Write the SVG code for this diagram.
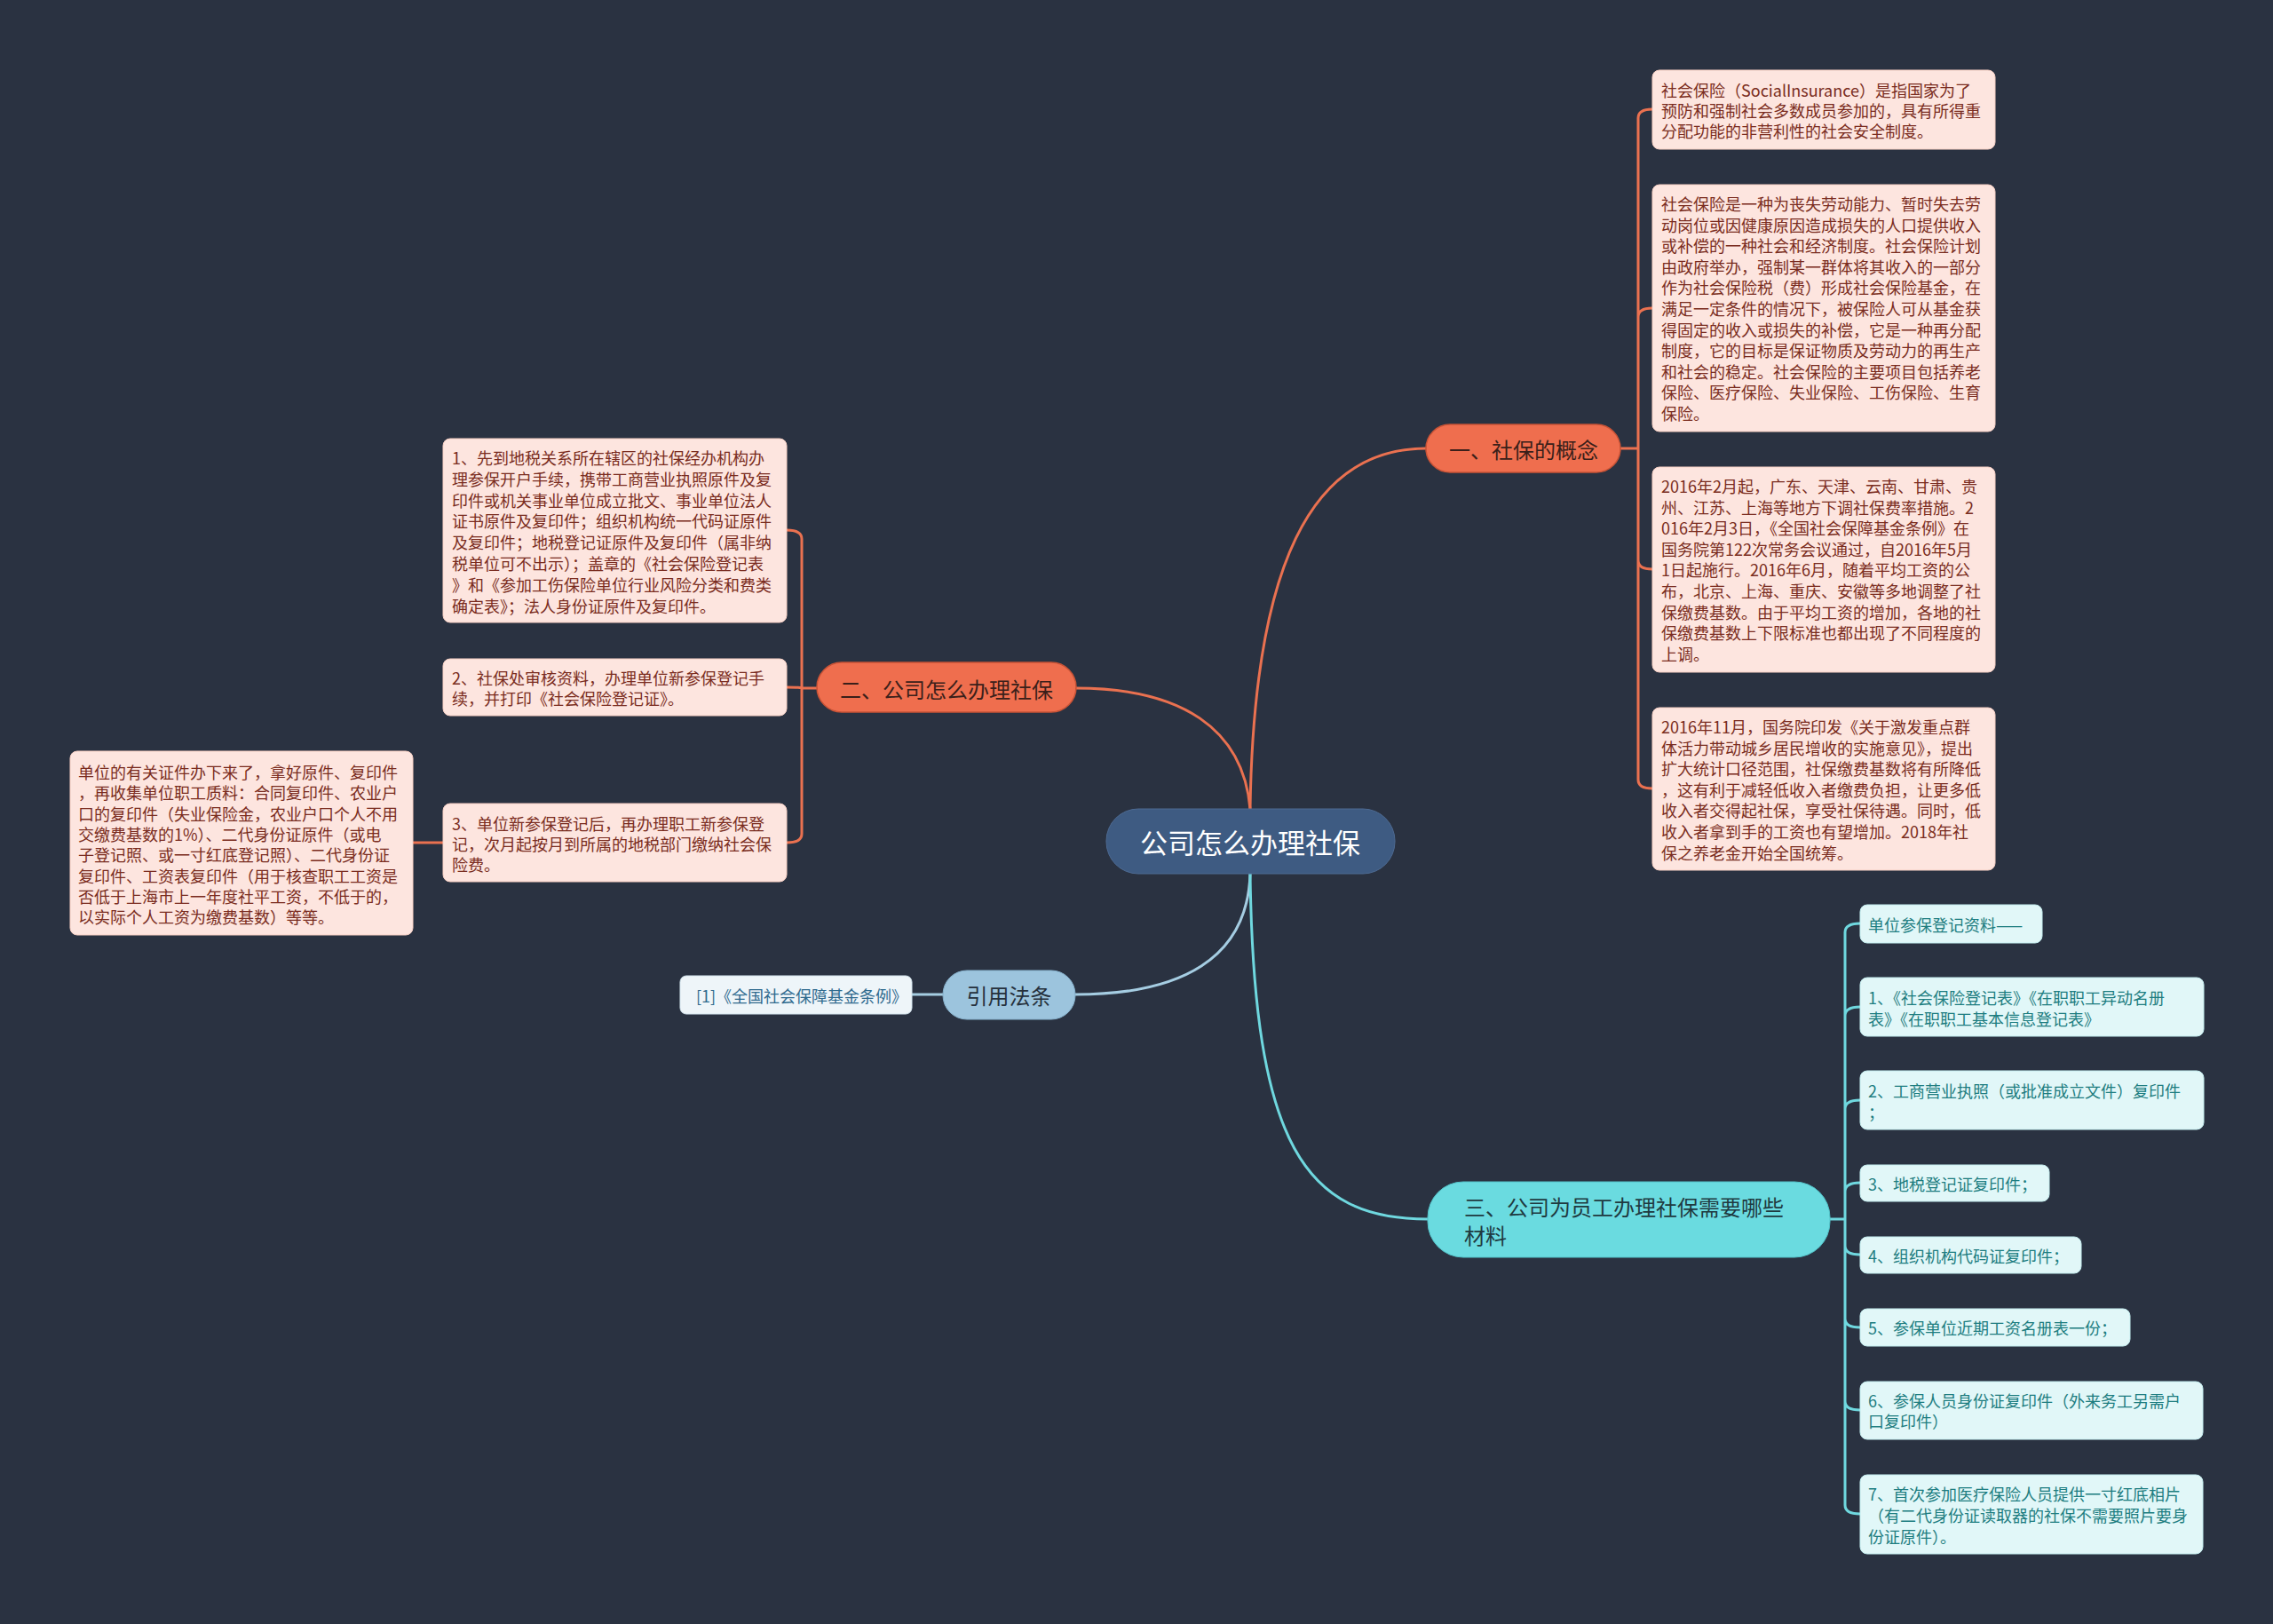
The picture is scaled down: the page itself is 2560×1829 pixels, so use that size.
<svg xmlns="http://www.w3.org/2000/svg" width="2560" height="1829" viewBox="0 0 2560 1829">
<style>
text{font-family:"Noto Sans CJK SC","Noto Sans",sans-serif;dominant-baseline:central}
.pk rect{fill:#fde5df;stroke:#f6cfc4;stroke-width:1}
.pk text{font-size:18px;fill:#7a2c20}
.cy rect{fill:#e1f7f8;stroke:#c4eef0;stroke-width:1}
.cy text{font-size:18px;fill:#1d7d80}
.or rect{fill:#ef6e4e;stroke:#c95336;stroke-width:1.5}
.or text{font-size:24px;fill:#3a1f1a}
.lo{fill:none;stroke:#ea7150;stroke-width:3}
.lc{fill:none;stroke:#6fd8df;stroke-width:3}
.lb{fill:none;stroke:#a5cde2;stroke-width:3}
</style>
<rect width="2560" height="1829" fill="#2a3241"/>
<g id="connectors">
<path class="lo" d="M1408 911 C1412 640 1475 505 1606 505"/>
<path class="lo" d="M1408 911 C1400 820 1330 775 1212 775"/>
<path class="lb" d="M1408 984 C1405 1080 1330 1120 1211 1120"/>
<path class="lc" d="M1408 984 C1412 1290 1470 1373 1608 1373"/>
<path class="lo" d="M1825 505 H1845 M1845 505 V133 Q1845 123 1861 123 M1845 505 V357 Q1845 347 1861 347 M1845 505 V631 Q1845 641 1861 641 M1845 505 V878 Q1845 888 1861 888"/>
<path class="lo" d="M920 775 H903 M903 775 V607 Q903 597 886 597 M903 775 Q903 774 886 774 M903 775 V939 Q903 949 886 949"/>
<path class="lo" d="M499 949 H465"/>
<path class="lb" d="M1062 1120 H1027"/>
<path class="lc" d="M2061 1373 H2078 M2078 1373 V1050 Q2078 1040 2095 1040 M2078 1373 V1144 Q2078 1134 2095 1134 M2078 1373 V1249 Q2078 1239 2095 1239 M2078 1373 V1342 Q2078 1332 2095 1332 M2078 1373 V1403 Q2078 1413 2095 1413 M2078 1373 V1485 Q2078 1495 2095 1495 M2078 1373 V1578 Q2078 1588 2095 1588 M2078 1373 V1695 Q2078 1705 2095 1705"/>
</g>
<g id="root">
<rect x="1246" y="911" width="325" height="73" rx="36" fill="#3e5b82" stroke="#4d6a92" stroke-width="1"/>
<text x="1408" y="947" font-size="31" fill="#ffffff" text-anchor="middle">公司怎么办理社保</text>
</g>
<g id="n1" class="or">
<rect x="1606" y="478" width="219" height="54" rx="27"/>
<text x="1716" y="505" text-anchor="middle">一、社保的概念</text>
</g>
<g id="n1a" class="pk">
<rect x="1861" y="79" width="386" height="89" rx="8"/>
<text x="1871" y="101">社会保险（SocialInsurance）是指国家为了</text>
<text x="1871" y="124">预防和强制社会多数成员参加的，具有所得重</text>
<text x="1871" y="147">分配功能的非营利性的社会安全制度。</text>
</g>
<g id="n1b" class="pk">
<rect x="1861" y="208" width="386" height="278" rx="8"/>
<text x="1871" y="229">社会保险是一种为丧失劳动能力、暂时失去劳</text>
<text x="1871" y="252.6">动岗位或因健康原因造成损失的人口提供收入</text>
<text x="1871" y="276.2">或补偿的一种社会和经济制度。社会保险计划</text>
<text x="1871" y="299.8">由政府举办，强制某一群体将其收入的一部分</text>
<text x="1871" y="323.4">作为社会保险税（费）形成社会保险基金，在</text>
<text x="1871" y="347">满足一定条件的情况下，被保险人可从基金获</text>
<text x="1871" y="370.6">得固定的收入或损失的补偿，它是一种再分配</text>
<text x="1871" y="394.2">制度，它的目标是保证物质及劳动力的再生产</text>
<text x="1871" y="417.8">和社会的稳定。社会保险的主要项目包括养老</text>
<text x="1871" y="441.4">保险、医疗保险、失业保险、工伤保险、生育</text>
<text x="1871" y="465">保险。</text>
</g>
<g id="n1c" class="pk">
<rect x="1861" y="526" width="386" height="231" rx="8"/>
<text x="1871" y="547">2016年2月起，广东、天津、云南、甘肃、贵</text>
<text x="1871" y="570.6">州、江苏、上海等地方下调社保费率措施。2</text>
<text x="1871" y="594.2">016年2月3日，《全国社会保障基金条例》在</text>
<text x="1871" y="617.8">国务院第122次常务会议通过，自2016年5月</text>
<text x="1871" y="641.4">1日起施行。2016年6月，随着平均工资的公</text>
<text x="1871" y="665">布，北京、上海、重庆、安徽等多地调整了社</text>
<text x="1871" y="688.6">保缴费基数。由于平均工资的增加，各地的社</text>
<text x="1871" y="712.2">保缴费基数上下限标准也都出现了不同程度的</text>
<text x="1871" y="735.8">上调。</text>
</g>
<g id="n1d" class="pk">
<rect x="1861" y="797" width="386" height="183" rx="8"/>
<text x="1871" y="818">2016年11月，国务院印发《关于激发重点群</text>
<text x="1871" y="841.6">体活力带动城乡居民增收的实施意见》，提出</text>
<text x="1871" y="865.2">扩大统计口径范围，社保缴费基数将有所降低</text>
<text x="1871" y="888.8">，这有利于减轻低收入者缴费负担，让更多低</text>
<text x="1871" y="912.4">收入者交得起社保，享受社保待遇。同时，低</text>
<text x="1871" y="936">收入者拿到手的工资也有望增加。2018年社</text>
<text x="1871" y="959.6">保之养老金开始全国统筹。</text>
</g>
<g id="n2" class="or">
<rect x="920" y="746" width="292" height="56" rx="28"/>
<text x="1066" y="775" text-anchor="middle">二、公司怎么办理社保</text>
</g>
<g id="n2a" class="pk">
<rect x="499" y="494" width="387" height="207" rx="8"/>
<text x="509" y="515">1、先到地税关系所在辖区的社保经办机构办</text>
<text x="509" y="538.8">理参保开户手续，携带工商营业执照原件及复</text>
<text x="509" y="562.6">印件或机关事业单位成立批文、事业单位法人</text>
<text x="509" y="586.4">证书原件及复印件；组织机构统一代码证原件</text>
<text x="509" y="610.2">及复印件；地税登记证原件及复印件（属非纳</text>
<text x="509" y="634">税单位可不出示）；盖章的《社会保险登记表</text>
<text x="509" y="657.8">》和《参加工伤保险单位行业风险分类和费类</text>
<text x="509" y="681.6">确定表》；法人身份证原件及复印件。</text>
</g>
<g id="n2b" class="pk">
<rect x="499" y="742" width="387" height="64" rx="8"/>
<text x="509" y="763">2、社保处审核资料，办理单位新参保登记手</text>
<text x="509" y="786">续，并打印《社会保险登记证》。</text>
</g>
<g id="n2c" class="pk">
<rect x="499" y="905" width="387" height="88" rx="8"/>
<text x="509" y="927">3、单位新参保登记后，再办理职工新参保登</text>
<text x="509" y="950">记，次月起按月到所属的地税部门缴纳社会保</text>
<text x="509" y="973">险费。</text>
</g>
<g id="n2c1" class="pk">
<rect x="79" y="846" width="386" height="207" rx="8"/>
<text x="88" y="869">单位的有关证件办下来了，拿好原件、复印件</text>
<text x="88" y="892.3">，再收集单位职工质料：合同复印件、农业户</text>
<text x="88" y="915.6">口的复印件（失业保险金，农业户口个人不用</text>
<text x="88" y="938.9">交缴费基数的1%）、二代身份证原件（或电</text>
<text x="88" y="962.2">子登记照、或一寸红底登记照）、二代身份证</text>
<text x="88" y="985.5">复印件、工资表复印件（用于核查职工工资是</text>
<text x="88" y="1008.8">否低于上海市上一年度社平工资，不低于的，</text>
<text x="88" y="1032.1">以实际个人工资为缴费基数）等等。</text>
</g>
<g id="n4">
<rect x="1062" y="1093" width="149" height="55" rx="27" fill="#9cc4dd" stroke="#86b1cc" stroke-width="1"/>
<text x="1136.5" y="1120" font-size="24" fill="#25303c" text-anchor="middle">引用法条</text>
</g>
<g id="n4a">
<rect x="766" y="1099" width="261" height="43" rx="7" fill="#eef5f9" stroke="#d5e6ef" stroke-width="1"/>
<text x="903" y="1121" font-size="18" fill="#2f6a8e" text-anchor="middle">[1]《全国社会保障基金条例》</text>
</g>
<g id="n3">
<rect x="1608" y="1331" width="453" height="85" rx="40" fill="#6adbe0" stroke="#52c3c9" stroke-width="1"/>
<text x="1649" y="1358" font-size="24" fill="#1f3a40">三、公司为员工办理社保需要哪些</text>
<text x="1649" y="1390" font-size="24" fill="#1f3a40">材料</text>
</g>
<g id="n3a" class="cy">
<rect x="2095" y="1019" width="205" height="43" rx="8"/>
<text x="2104" y="1041">单位参保登记资料——</text>
</g>
<g id="n3b" class="cy">
<rect x="2095" y="1101" width="387" height="66" rx="8"/>
<text x="2104" y="1123">1、《社会保险登记表》《在职职工异动名册</text>
<text x="2104" y="1147">表》《在职职工基本信息登记表》</text>
</g>
<g id="n3c" class="cy">
<rect x="2095" y="1206" width="387" height="66" rx="8"/>
<text x="2104" y="1228">2、工商营业执照（或批准成立文件）复印件</text>
<text x="2104" y="1252">；</text>
</g>
<g id="n3d" class="cy">
<rect x="2095" y="1312" width="213" height="41" rx="8"/>
<text x="2104" y="1333">3、地税登记证复印件；</text>
</g>
<g id="n3e" class="cy">
<rect x="2095" y="1393" width="249" height="41" rx="8"/>
<text x="2104" y="1414">4、组织机构代码证复印件；</text>
</g>
<g id="n3f" class="cy">
<rect x="2095" y="1474" width="304" height="42" rx="8"/>
<text x="2104" y="1495">5、参保单位近期工资名册表一份；</text>
</g>
<g id="n3g" class="cy">
<rect x="2095" y="1556" width="386" height="65" rx="8"/>
<text x="2104" y="1577">6、参保人员身份证复印件（外来务工另需户</text>
<text x="2104" y="1600">口复印件）</text>
</g>
<g id="n3h" class="cy">
<rect x="2095" y="1661" width="386" height="89" rx="8"/>
<text x="2104" y="1682">7、首次参加医疗保险人员提供一寸红底相片</text>
<text x="2104" y="1706">（有二代身份证读取器的社保不需要照片要身</text>
<text x="2104" y="1730">份证原件）。</text>
</g>
</svg>
